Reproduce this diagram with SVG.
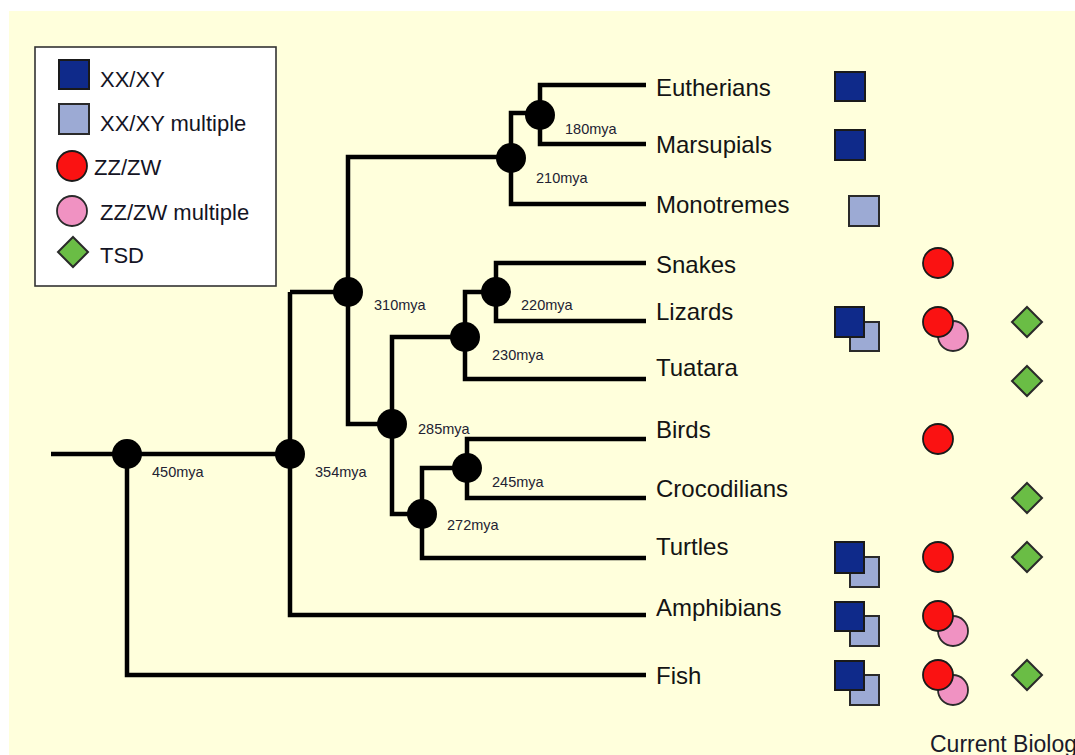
<svg xmlns="http://www.w3.org/2000/svg" width="1075" height="755" viewBox="0 0 1075 755">
<defs>
<style>
.bg{fill:#FFFFDC}
.br{fill:none;stroke:#000;stroke-width:4.5;stroke-linecap:butt;stroke-linejoin:miter}
.nd{fill:#000}
.mya{font-family:"Liberation Sans",Arial,sans-serif;font-size:14.5px;fill:#222233}
.lbl{font-family:"Liberation Sans",Arial,sans-serif;font-size:24px;fill:#141414}
.leg{font-family:"Liberation Sans",Arial,sans-serif;font-size:22px;fill:#141424}
.xy{fill:#0F2A8A;stroke:#1a1a1a;stroke-width:2}
.xym{fill:#9CAAD4;stroke:#2a2a2a;stroke-width:2}
.zw{fill:#FA1212;stroke:#1a1a1a;stroke-width:1.8}
.zwm{fill:#F092C2;stroke:#2a2a2a;stroke-width:1.8}
.tsd{fill:#6ABD45;stroke:#2a2a2a;stroke-width:2}
</style>
</defs>
<rect x="0" y="0" width="1075" height="755" fill="#ffffff"/>
<rect class="bg" x="9" y="11" width="1066" height="744"/>

<g id="legend">
<rect x="35" y="47" width="241" height="239" fill="#ffffff" stroke="#333" stroke-width="1.6"/>
<rect class="xy" x="59" y="60" width="30" height="29"/>
<text class="leg" x="100" y="87">XX/XY</text>
<rect class="xym" x="59" y="104" width="30" height="30"/>
<text class="leg" x="100" y="131">XX/XY multiple</text>
<circle class="zw" cx="72" cy="166" r="15"/>
<text class="leg" x="94" y="175">ZZ/ZW</text>
<circle class="zwm" cx="72" cy="211" r="15"/>
<text class="leg" x="100" y="220">ZZ/ZW multiple</text>
<polygon class="tsd" points="73,237 88,252 73,267 58,252"/>
<text class="leg" x="100" y="263">TSD</text>
</g>

<g id="connectors">
<path class="br" d="M51,454 H290"/>
<path class="br" d="M127,454 V675 H646"/>
<path class="br" d="M290,292 V615 H646"/>
<path class="br" d="M290,292 H348"/>
<path class="br" d="M511,157 H348 V424 H392"/>
<path class="br" d="M540,113 H511 V204 H646"/>
<path class="br" d="M646,85 H540 V144 H646"/>
<path class="br" d="M465,337 H392 V514 H422"/>
<path class="br" d="M496,292 H465 V379 H646"/>
<path class="br" d="M646,263 H496 V321 H646"/>
<path class="br" d="M467,468 H422 V558 H646"/>
<path class="br" d="M646,439 H467 V498 H646"/>
</g>

<g id="node-450"><circle class="nd" cx="127" cy="454" r="15"/><text class="mya" x="152" y="477">450mya</text></g>
<g id="node-354"><circle class="nd" cx="290" cy="454" r="15"/><text class="mya" x="315" y="477">354mya</text></g>
<g id="node-310"><circle class="nd" cx="348" cy="292" r="15"/><text class="mya" x="374" y="310">310mya</text></g>
<g id="node-210"><circle class="nd" cx="511" cy="158" r="15"/><text class="mya" x="536" y="183">210mya</text></g>
<g id="node-180"><circle class="nd" cx="540" cy="115" r="15"/><text class="mya" x="565" y="134">180mya</text></g>
<g id="node-285"><circle class="nd" cx="392" cy="424" r="15"/><text class="mya" x="418" y="434">285mya</text></g>
<g id="node-230"><circle class="nd" cx="465" cy="337" r="15"/><text class="mya" x="492" y="360">230mya</text></g>
<g id="node-220"><circle class="nd" cx="496" cy="292" r="15"/><text class="mya" x="521" y="310">220mya</text></g>
<g id="node-272"><circle class="nd" cx="422" cy="514" r="15"/><text class="mya" x="447" y="530">272mya</text></g>
<g id="node-245"><circle class="nd" cx="467" cy="468" r="15"/><text class="mya" x="492" y="487">245mya</text></g>

<g id="eutherians"><text class="lbl" x="656" y="96">Eutherians</text><rect class="xy" x="835" y="72" width="30" height="29"/></g>
<g id="marsupials"><text class="lbl" x="656" y="153">Marsupials</text><rect class="xy" x="835" y="130" width="30" height="30"/></g>
<g id="monotremes"><text class="lbl" x="656" y="213">Monotremes</text><rect class="xym" x="849" y="196" width="30" height="30"/></g>
<g id="snakes"><text class="lbl" x="656" y="273">Snakes</text><circle class="zw" cx="938" cy="263" r="15"/></g>
<g id="lizards"><text class="lbl" x="656" y="320">Lizards</text>
<rect class="xym" x="850" y="322" width="29" height="29"/><rect class="xy" x="835" y="307" width="29" height="30"/>
<circle class="zwm" cx="953" cy="336" r="15"/><circle class="zw" cx="938" cy="322" r="15"/>
<polygon class="tsd" points="1027,307 1042,322 1027,337 1012,322"/></g>
<g id="tuatara"><text class="lbl" x="656" y="376">Tuatara</text><polygon class="tsd" points="1027,366 1042,381 1027,396 1012,381"/></g>
<g id="birds"><text class="lbl" x="656" y="438">Birds</text><circle class="zw" cx="938" cy="439" r="15"/></g>
<g id="crocodilians"><text class="lbl" x="656" y="497">Crocodilians</text><polygon class="tsd" points="1027,483 1042,498 1027,513 1012,498"/></g>
<g id="turtles"><text class="lbl" x="656" y="555">Turtles</text>
<rect class="xym" x="850" y="557" width="29" height="30"/><rect class="xy" x="835" y="542" width="29" height="31"/>
<circle class="zw" cx="938" cy="557" r="15"/>
<polygon class="tsd" points="1027,542 1042,557 1027,572 1012,557"/></g>
<g id="amphibians"><text class="lbl" x="656" y="616">Amphibians</text>
<rect class="xym" x="850" y="616" width="29" height="30"/><rect class="xy" x="835" y="602" width="29" height="29"/>
<circle class="zwm" cx="953" cy="631" r="15"/><circle class="zw" cx="938" cy="616" r="15"/></g>
<g id="fish"><text class="lbl" x="656" y="684">Fish</text>
<rect class="xym" x="850" y="675" width="29" height="30"/><rect class="xy" x="835" y="661" width="29" height="29"/>
<circle class="zwm" cx="953" cy="690" r="15"/><circle class="zw" cx="938" cy="675" r="15"/>
<polygon class="tsd" points="1027,660 1042,675 1027,690 1012,675"/></g>

<text x="930" y="752" font-family="'Liberation Sans',Arial,sans-serif" font-size="23" fill="#1a1a2a">Current Biology</text>
</svg>
